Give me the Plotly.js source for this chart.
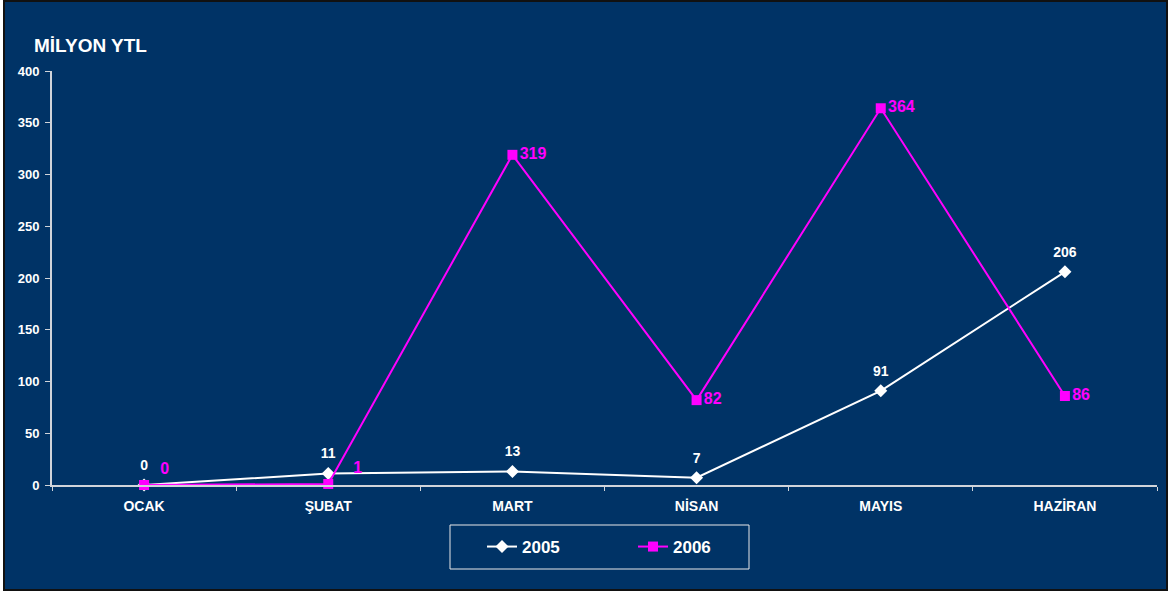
<!DOCTYPE html>
<html>
<head>
<meta charset="utf-8">
<script src="https://cdn.plot.ly/plotly-3.0.1.min.js"></script>
<style>
  html, body { margin: 0; padding: 0; background: #ffffff; width: 1169px; height: 594px; overflow: hidden; }
  #frame { position: absolute; left: 3px; top: 0px; width: 1165px; height: 591px; box-sizing: border-box;
           border: 2px solid #111111; background: #003366; }
  #chart { position: absolute; left: 0; top: 0; width: 1169px; height: 594px; }
</style>
</head>
<body>
<div id="frame"></div>
<div id="chart"></div>
<script>
const months = ["OCAK", "ŞUBAT", "MART", "NİSAN", "MAYIS", "HAZİRAN"];
const values2005 = [0, 11, 13, 7, 91, 206];
const values2006 = [0, 1, 319, 82, 364, 86];
const yTicks = [0, 50, 100, 150, 200, 250, 300, 350, 400];

const FONT = "Liberation Sans, Arial, sans-serif";
const NB = "\u00a0";

const trace2005 = {
  x: months, y: values2005, name: "2005", type: "scatter", mode: "lines+markers",
  line: { color: "#ffffff", width: 2 },
  marker: { symbol: "diamond", size: 10, color: "#ffffff" },
  hoverinfo: "skip", cliponaxis: false
};
// labels for 2005 (invisible larger marker only used to offset the text)
const labels2005 = {
  x: months, y: values2005, name: "2005 labels", type: "scatter", mode: "markers+text",
  marker: { symbol: "circle", size: 17, color: "#ffffff", opacity: 0 },
  text: values2005.map(String),
  textposition: "top center",
  textfont: { family: FONT, size: 14, color: "#ffffff", weight: "bold" },
  showlegend: false, hoverinfo: "skip", cliponaxis: false
};
const trace2006 = {
  x: months, y: values2006, name: "2006", type: "scatter", mode: "lines+markers+text",
  line: { color: "#ff00ff", width: 2 },
  marker: { symbol: "square", size: 10, color: "#ff00ff" },
  text: values2006.map(String),
  texttemplate: values2006.map((v, i) => i === 0 ? NB + NB + "%{text}" : (i === 1 ? NB + NB + NB + NB + "%{text}" : "%{text}")),
  textposition: values2006.map((v, i) => i < 2 ? "top right" : "middle right"),
  textfont: { family: FONT, size: 16, color: "#ff00ff", weight: "bold" },
  hoverinfo: "skip", cliponaxis: false
};

// legend frame position (page pixels) converted to paper coordinates
const PL = 52, PR = 1157, PT = 71, PB = 485;
const px = v => (v - PL) / (PR - PL);
const py = v => (PB - v) / (PB - PT);

const layout = {
  width: 1169, height: 594,
  paper_bgcolor: "rgba(0,0,0,0)", plot_bgcolor: "rgba(0,0,0,0)",
  margin: { l: PL, r: 1169 - PR, t: PT, b: 594 - PB },
  font: { family: FONT, color: "#ffffff" },
  title: {
    text: "MİLYON YTL", xref: "container", yref: "container",
    x: 34 / 1169, xanchor: "left", y: 1 - 45 / 594, yanchor: "middle",
    font: { family: FONT, size: 19, color: "#ffffff", weight: "bold" }
  },
  xaxis: {
    type: "category", range: [-0.5, 5.5], fixedrange: true,
    showline: true, linecolor: "#d0d4da", linewidth: 2,
    ticks: "outside", tickson: "boundaries", ticklen: 4, tickcolor: "#d0d4da", tickwidth: 1,
    tickfont: { family: FONT, size: 14, color: "#ffffff", weight: "bold" },
    ticklabelstandoff: 7,
    showgrid: false, zeroline: false
  },
  yaxis: {
    range: [0, 400], fixedrange: true,
    tickvals: yTicks, ticktext: yTicks.map(String),
    showline: true, linecolor: "#d0d4da", linewidth: 2,
    ticks: "outside", ticklen: 5, tickcolor: "#d0d4da", tickwidth: 1,
    tickfont: { family: FONT, size: 13, color: "#ffffff", weight: "bold" },
    ticklabelstandoff: 3,
    showgrid: false, zeroline: false
  },
  shapes: [{
    type: "rect", xref: "paper", yref: "paper",
    x0: px(450), x1: px(749), y0: py(569), y1: py(525),
    line: { color: "#e8e8e8", width: 1 }, fillcolor: "rgba(0,0,0,0)", layer: "above"
  }],
  showlegend: true,
  legend: {
    orientation: "h", xref: "container", yref: "container",
    x: 482 / 1169, xanchor: "left", y: 1 - 547 / 594, yanchor: "middle",
    bgcolor: "rgba(0,0,0,0)", borderwidth: 0,
    font: { family: FONT, size: 17, color: "#ffffff", weight: "bold" },
    entrywidth: 106, itemwidth: 30
  },
  hovermode: false
};

Plotly.newPlot("chart", [trace2005, trace2006, labels2005], layout, { displayModeBar: false, staticPlot: true });
</script>
</body>
</html>
